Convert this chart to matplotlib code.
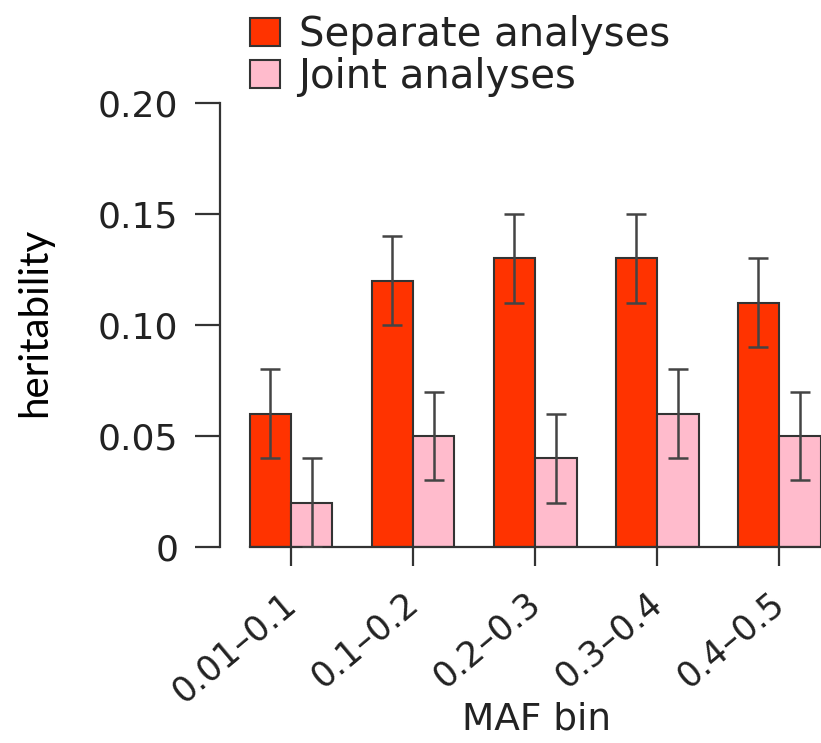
import matplotlib
matplotlib.use("Agg")
import matplotlib.pyplot as plt
import matplotlib.transforms as mtransforms
import numpy as np

bins = ["0.01\u20130.1", "0.1\u20130.2", "0.2\u20130.3", "0.3\u20130.4", "0.4\u20130.5"]
separate = [0.06, 0.12, 0.13, 0.13, 0.11]
separate_err = [0.02, 0.02, 0.02, 0.02, 0.02]
joint = [0.02, 0.05, 0.04, 0.06, 0.05]
joint_err = [0.02, 0.02, 0.02, 0.02, 0.02]
yticks = [0, 0.05, 0.10, 0.15, 0.20]
ytick_labels = ["0", "0.05", "0.10", "0.15", "0.20"]

red = "#ff3300"
pink = "#ffbbcc"
dark = "#333333"

W, H = 821, 743
fig = plt.figure(figsize=(W / 100, H / 100), dpi=100)
ax = fig.add_axes([220 / W, (H - 547) / H, 601 / W, 444 / H])

x = np.arange(len(bins))
bw = 0.34
ax.bar(x - bw / 2, separate, bw, color=red, edgecolor=dark, linewidth=1.5,
       label="Separate analyses", zorder=2)
ax.bar(x + bw / 2, joint, bw, color=pink, edgecolor=dark, linewidth=1.5,
       label="Joint analyses", zorder=2)
ax.errorbar(x - bw / 2, separate, yerr=separate_err, fmt="none", ecolor="#444444",
            elinewidth=1.8, capsize=7, capthick=1.8, zorder=3)
ax.errorbar(x + bw / 2, joint, yerr=joint_err, fmt="none", ecolor="#444444",
            elinewidth=1.8, capsize=7, capthick=1.8, zorder=3)

ax.set_xlim(-0.582, 4.344)
ax.set_ylim(0, 0.2)

for s in ["top", "right"]:
    ax.spines[s].set_visible(False)
ax.spines["left"].set_bounds(0, 0.2)
ax.spines["bottom"].set_bounds(-bw, 4.344)
for s in ["left", "bottom"]:
    ax.spines[s].set_color(dark)
    ax.spines[s].set_linewidth(1.6)

ax.set_yticks(yticks)
ax.set_yticklabels(ytick_labels, fontsize=26, color="#222222")
ax.tick_params(axis="y", length=18, width=1.6, color=dark, pad=12)

ax.set_xticks(x)
ax.set_xticklabels(bins, fontsize=25, color="#222222", rotation=40, ha="right", va="top")
ax.tick_params(axis="x", length=14, width=1.6, color=dark, pad=14)
offset = mtransforms.ScaledTranslation(12 / 100, 0, fig.dpi_scale_trans)
for lab in ax.get_xticklabels():
    lab.set_transform(lab.get_transform() + offset)

# x label placed by hand so it sits below the rotated ticks
fig.text(537 / W, (H - 720) / H, "MAF bin", fontsize=27, color="#222222",
         ha="center", va="center")
fig.text(35 / W, (H - 322) / H, "heritability", rotation=90, fontsize=29,
         family=["Lato", "DejaVu Sans"], ha="center", va="center", color="black")

leg = fig.legend(loc="upper left", bbox_to_anchor=(226 / W, 1.012), frameon=False,
                 fontsize=29, handlelength=0.75, handleheight=0.7,
                 handletextpad=0.45, labelspacing=0.05, borderaxespad=0.2)
for t in leg.get_texts():
    t.set_color("#222222")

fig.savefig("out.png", dpi=100)
